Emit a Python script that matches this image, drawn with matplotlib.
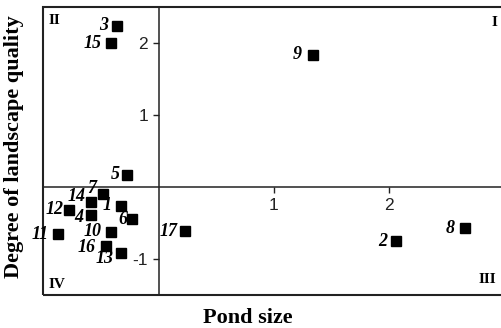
import matplotlib
matplotlib.use('Agg')
import matplotlib.pyplot as plt
from matplotlib.patches import Rectangle

# pond ids and their scores
ids = ['1', '2', '3', '4', '5', '6', '7', '8', '9', '10', '11', '12', '13', '14', '15', '16', '17']
pond_size = [-0.33, 2.06, -0.36, -0.59, -0.27, -0.23, -0.48, 2.66, 1.34, -0.415, -0.87, -0.775, -0.33, -0.59, -0.41, -0.46, 0.225]
quality = [-0.26, -0.75, 2.24, -0.38, 0.17, -0.445, -0.10, -0.57, 1.84, -0.62, -0.65, -0.31, -0.91, -0.21, 2.0, -0.81, -0.61]

xticks = [1, 2]
yticks = [-1, 1, 2]
quadrants = ['I', 'II', 'III', 'IV']

# label offsets in points (dx, dy), default is just left of the marker
offsets = {'3': (-6.5, 0), '15': (-7, 0), '9': (-8, 0), '8': (-8, 0), '2': (-6.5, 0),
           '12': (-4, 0), '11': (-6.8, 0), '14': (-3.8, 4.3), '4': (-5, -2), '6': (-3.4, 0),
           '7': (-5.4, 4.4), '16': (-7.4, -1.4), '13': (-4.8, -4), '5': (-5.3, 0), '17': (-5, 0)}

W, H = 502, 328
fig = plt.figure(figsize=(W / 100, H / 100), dpi=100)
ax = fig.add_axes([43.3 / W, 1 - 295.3 / H, 461.3 / W, 288.3 / H])
ax.set_xlim(-1, 3)
ax.set_ylim(-1.5, 2.5)

ax.plot(pond_size, quality, 's', color='black', markersize=7.3, clip_on=False, zorder=3)

serif = 'Liberation Serif'
for name, x, y in zip(ids, pond_size, quality):
    dx, dy = offsets.get(name, (-6.3, 0))
    ax.annotate(name, (x, y), xytext=(dx, dy), textcoords='offset points',
                ha='right', va='center', fontsize=13, fontweight='bold',
                fontstyle='italic', family=serif, annotation_clip=False)

# axes through the origin, outer box drawn separately
for s in ['top', 'right']:
    ax.spines[s].set_visible(False)
ax.spines['left'].set_position(('data', 0))
ax.spines['bottom'].set_position(('data', 0))
for s in ['left', 'bottom']:
    ax.spines[s].set_linewidth(1.1)
    ax.spines[s].set_color('#222222')
ax.add_patch(Rectangle((0, 0), 1, 1, transform=ax.transAxes, fill=False,
                       lw=1.5, edgecolor='#222222', clip_on=False))

ax.set_xticks(xticks)
ax.set_yticks(yticks)
ax.set_xticklabels([str(t) for t in xticks])
ax.set_yticklabels([str(t) for t in yticks])
ax.tick_params(length=4, width=1, color='#222222', labelsize=12.5, labelcolor='#222222')
ax.tick_params(axis='x', pad=4)
for lab in ax.get_xticklabels() + ax.get_yticklabels():
    lab.set_family('Liberation Sans')

qpos = {'I': (0.977, 0.946), 'II': (0.024, 0.954), 'III': (0.962, 0.056), 'IV': (0.030, 0.039)}
for q in quadrants:
    ax.text(qpos[q][0], qpos[q][1], q, transform=ax.transAxes, ha='center', va='center',
            fontsize=11, fontweight='bold', family=serif)

fig.text(247.5 / W, 1 - 318 / H, 'Pond size', ha='center', va='center',
         fontsize=16, fontweight='bold', family=serif)
fig.text(14 / W, 1 - 147 / H, 'Degree of landscape quality', ha='center', va='center',
         rotation=90, fontsize=16, fontweight='bold', family=serif)

fig.savefig('out.png', dpi=100)
